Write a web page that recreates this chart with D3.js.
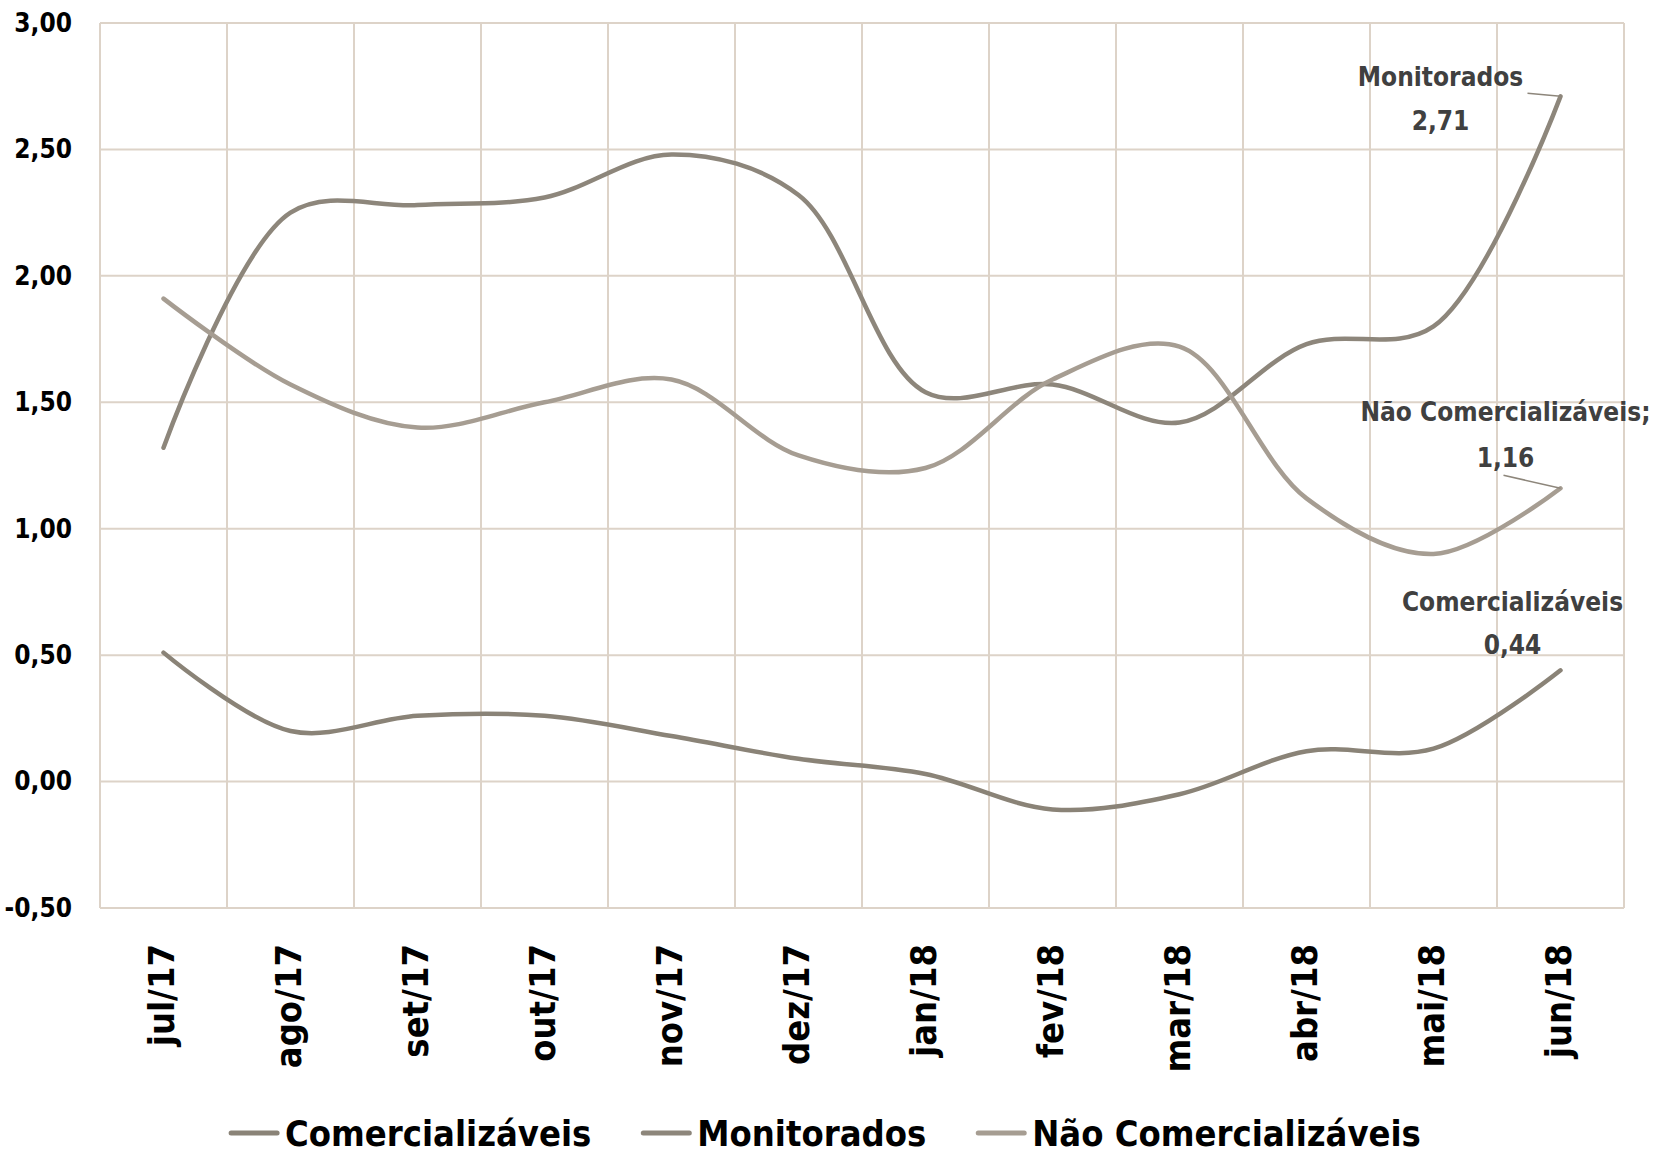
<!DOCTYPE html>
<html>
<head>
<meta charset="utf-8">
<script src="https://cdn.jsdelivr.net/npm/d3@7"></script>
<style>
  body { margin: 0; background: #fff; }
  text { font-family: "Liberation Sans Narrow", "DejaVu Sans Condensed", "Open Sans", sans-serif; font-weight: bold; }
</style>
</head>
<body>
<div id="chart"></div>
<script>
const months = ["jul/17", "ago/17", "set/17", "out/17", "nov/17", "dez/17",
                "jan/18", "fev/18", "mar/18", "abr/18", "mai/18", "jun/18"];
const comercializaveis = [0.51, 0.20, 0.26, 0.26, 0.18, 0.09, 0.03, -0.11, -0.05, 0.12, 0.13, 0.44];
const monitorados = [1.32, 2.25, 2.28, 2.31, 2.48, 2.32, 1.54, 1.57, 1.42, 1.73, 1.80, 2.71];
const naoComercializaveis = [1.91, 1.57, 1.40, 1.50, 1.59, 1.29, 1.24, 1.59, 1.72, 1.12, 0.90, 1.16];
const yTicks = [-0.5, 0, 0.5, 1, 1.5, 2, 2.5, 3];

const series = [
  {name: "Comercializáveis", values: comercializaveis, color: "#8a8377"},
  {name: "Monitorados", values: monitorados, color: "#8d867b"},
  {name: "Não Comercializáveis", values: naoComercializaveis, color: "#a69d92"}
];

const W = 1663, H = 1155;
const margin = {top: 23, right: 39, bottom: 247, left: 100};
const width = W - margin.left - margin.right;
const height = H - margin.top - margin.bottom;

const fmt = v => d3.format(".2f")(v).replace(".", ",").replace("−", "-");

const svg = d3.select("#chart").append("svg")
  .attr("width", W).attr("height", H);
const g = svg.append("g")
  .attr("transform", "translate(" + margin.left + "," + margin.top + ")");

const x = d3.scaleBand().domain(months).range([0, width]);
const y = d3.scaleLinear().domain([-0.5, 3]).range([height, 0]);

// grid
g.selectAll(".hgrid").data(yTicks).enter().append("line")
  .attr("x1", 0).attr("x2", width)
  .attr("y1", d => y(d)).attr("y2", d => y(d))
  .attr("stroke", "#ddd3c8").attr("stroke-width", 2);
const vlines = d3.range(months.length + 1).map(i => i * x.bandwidth());
g.selectAll(".vgrid").data(vlines).enter().append("line")
  .attr("x1", d => d).attr("x2", d => d)
  .attr("y1", 0).attr("y2", height)
  .attr("stroke", "#ddd3c8").attr("stroke-width", 2);

// y axis labels
const yAxis = g.append("g").call(d3.axisLeft(y).tickValues(yTicks).tickFormat(fmt).tickSize(0).tickPadding(28));
yAxis.select(".domain").remove();
yAxis.selectAll("text").style("font-size", "26px").attr("fill", "#000");

// x axis labels
const xAxis = g.append("g").attr("transform", "translate(0," + height + ")")
  .call(d3.axisBottom(x).tickSize(0));
xAxis.select(".domain").remove();
xAxis.selectAll("text")
  .style("font-size", "36px").attr("fill", "#000")
  .style("text-anchor", "end")
  .attr("transform", "translate(-2,36)rotate(-90)")
  .attr("dy", "0.35em").attr("x", 0).attr("y", 0);

// lines
const line = d3.line()
  .x((d, i) => x(months[i]) + x.bandwidth() / 2)
  .y(d => y(d))
  .curve(d3.curveCatmullRom.alpha(0.5));

series.forEach(s => {
  g.append("path").datum(s.values)
    .attr("d", line)
    .attr("fill", "none")
    .attr("stroke", s.color)
    .attr("stroke-width", 4.5)
    .attr("stroke-linecap", "round");
});

// data labels at last point
const lastX = x(months[11]) + x.bandwidth() / 2;
const labels = [
  {lines: ["Monitorados", fmt(monitorados[11])], v: monitorados[11], dx: -120, dy: [-19, 25], leader: [-33, -3]},
  {lines: ["Não Comercializáveis;", fmt(naoComercializaveis[11])], v: naoComercializaveis[11], dx: -55, dy: [-76, -30], leader: [-57, -13]},
  {lines: ["Comercializáveis", fmt(comercializaveis[11])], v: comercializaveis[11], dx: -48, dy: [-68, -25], leader: null}
];
labels.forEach(l => {
  const px = lastX, py = y(l.v);
  if (l.leader) {
    g.append("line")
      .attr("x1", px + l.leader[0]).attr("y1", py + l.leader[1])
      .attr("x2", px).attr("y2", py)
      .attr("stroke", "#8d867b").attr("stroke-width", 1.5);
  }
  l.lines.forEach((t, i) => {
    g.append("text")
      .attr("x", px + l.dx).attr("y", py + l.dy[i])
      .attr("text-anchor", "middle")
      .attr("dy", "0.35em")
      .style("font-size", "26px")
      .attr("fill", "#404040")
      .text(t);
  });
});

// legend, laid out in a row and centred under the plot
const legend = svg.append("g");
const gap = 52;
let cursor = 0;
series.forEach((s, i) => {
  const item = legend.append("g").attr("transform", "translate(" + cursor + ",0)");
  item.append("line")
    .attr("x1", 0).attr("x2", 46)
    .attr("y1", 0).attr("y2", 0)
    .attr("stroke", s.color).attr("stroke-width", 5).attr("stroke-linecap", "round");
  const t = item.append("text")
    .attr("x", 54).attr("y", 0).attr("dy", "0.35em")
    .style("font-size", "36px").attr("fill", "#000")
    .text(s.name);
  cursor += 54 + t.node().getComputedTextLength() + gap;
});
const legendW = cursor - gap;
legend.attr("transform", "translate(" + (826 - legendW / 2) + ",1133)");
</script>
</body>
</html>
